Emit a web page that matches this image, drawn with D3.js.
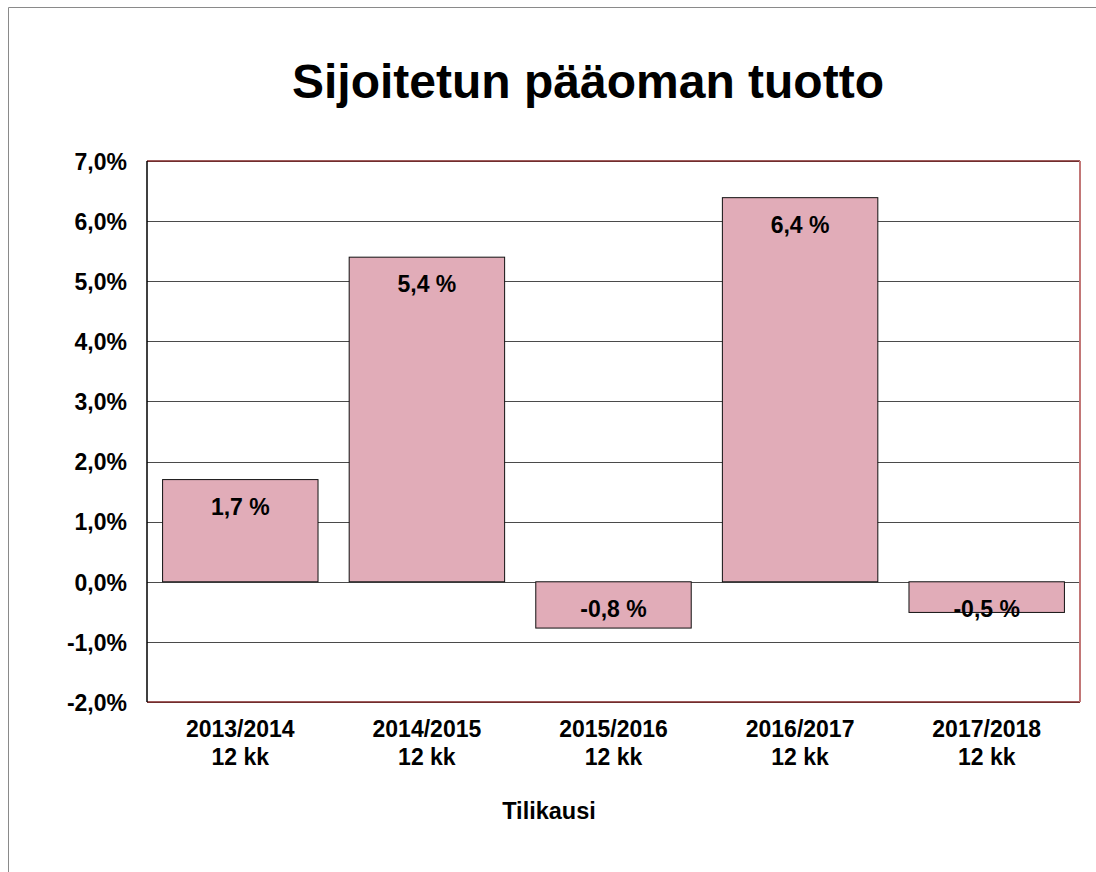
<!DOCTYPE html>
<html>
<head>
<meta charset="utf-8">
<script src="https://cdn.jsdelivr.net/npm/d3@7"></script>
<style>
  html, body { margin: 0; padding: 0; background: #fff; overflow: hidden; }
  svg { display: block; overflow: hidden; font-family: "Liberation Sans", Arial, sans-serif; font-weight: bold; }
</style>
</head>
<body>
<div id="chart"></div>
<script>
const WIDTH = 1096;
const HEIGHT = 872;

// data
const periods = ["2013/2014", "2014/2015", "2015/2016", "2016/2017", "2017/2018"];
const periodLengths = ["12 kk", "12 kk", "12 kk", "12 kk", "12 kk"];
const returns = [1.7, 5.4, -0.77, 6.39, -0.51];
const returnLabels = ["1,7 %", "5,4 %", "-0,8 %", "6,4 %", "-0,5 %"];
const yTicks = [-2, -1, 0, 1, 2, 3, 4, 5, 6, 7];

const plot = { left: 147, right: 1080, top: 161, bottom: 702 };

const fi = d3.formatLocale({ decimal: ",", thousands: " ", grouping: [3], currency: ["", " €"], minus: "-" });
const pct = fi.format(".1f");

const svg = d3.select("#chart").append("svg")
  .attr("width", WIDTH)
  .attr("height", HEIGHT);

// outer chart frame (only top and left edges fall inside the picture)
svg.append("path")
  .attr("d", `M8.5,${HEIGHT} V7.5 H${WIDTH}`)
  .attr("fill", "none")
  .attr("stroke", "#8a8a8a")
  .attr("stroke-width", 1);

const x = d3.scaleBand()
  .domain(periods)
  .range([plot.left, plot.right])
  .paddingInner(0.167)
  .paddingOuter(0.0835);

const y = d3.scaleLinear()
  .domain([-2, 7])
  .range([plot.bottom, plot.top]);

// title
svg.append("text")
  .attr("x", 588)
  .attr("y", 98)
  .attr("text-anchor", "middle")
  .style("font-size", "48px")
  .text("Sijoitetun pääoman tuotto");

// gridlines
svg.append("g")
  .attr("class", "grid")
  .attr("transform", `translate(${plot.left},0)`)
  .call(d3.axisLeft(y).tickValues(yTicks).tickSize(-(plot.right - plot.left)).tickFormat(""))
  .call((g) => g.select(".domain").remove())
  .call((g) => g.selectAll("line").attr("stroke", "#4a4a4a").attr("shape-rendering", "crispEdges"));

// y axis labels
svg.append("g")
  .attr("transform", `translate(${plot.left},0)`)
  .call(d3.axisLeft(y).tickValues(yTicks).tickSize(0).tickPadding(20).tickFormat((d) => `${pct(d)}%`))
  .call((g) => g.select(".domain").remove())
  .call((g) => g.selectAll("text")
    .attr("fill", "#000")
    .attr("dy", "0.36em")
    .style("font-size", "23px")
    .style("font-family", "'Liberation Sans', Arial, sans-serif")
    .style("font-weight", "bold"));

// bars
svg.append("g")
  .selectAll("rect")
  .data(returns)
  .join("rect")
  .attr("x", (d, i) => x(periods[i]))
  .attr("y", (d) => y(Math.max(0, d)))
  .attr("width", x.bandwidth())
  .attr("height", (d) => Math.abs(y(d) - y(0)))
  .attr("fill", "#e1acb8")
  .attr("stroke", "#111")
  .attr("stroke-width", 1);

// bar value labels
svg.append("g")
  .selectAll("text")
  .data(returns)
  .join("text")
  .attr("x", (d, i) => x(periods[i]) + x.bandwidth() / 2)
  .attr("y", (d) => y(Math.max(0, d)) + 35)
  .attr("text-anchor", "middle")
  .style("font-size", "23px")
  .text((d, i) => returnLabels[i]);

// plot frame
const frame = svg.append("g").attr("fill", "none");
frame.append("line")
  .attr("x1", plot.left).attr("x2", plot.right)
  .attr("y1", plot.top).attr("y2", plot.top)
  .attr("stroke", "#7e2424").attr("stroke-width", 1.5);
frame.append("line")
  .attr("x1", plot.left).attr("x2", plot.right)
  .attr("y1", plot.bottom).attr("y2", plot.bottom)
  .attr("stroke", "#7e2424").attr("stroke-width", 1.5);
frame.append("line")
  .attr("x1", plot.right).attr("x2", plot.right)
  .attr("y1", plot.top).attr("y2", plot.bottom)
  .attr("stroke", "#c27676").attr("stroke-width", 2);
frame.append("line")
  .attr("x1", plot.left).attr("x2", plot.left)
  .attr("y1", plot.top).attr("y2", plot.bottom)
  .attr("stroke", "#000").attr("stroke-width", 1.5);

// category labels
const cats = svg.append("g")
  .selectAll("text")
  .data(periods)
  .join("text")
  .attr("x", (d) => x(d) + x.bandwidth() / 2)
  .attr("y", 737)
  .attr("text-anchor", "middle")
  .style("font-size", "23px");
cats.append("tspan").text((d) => d);
cats.append("tspan")
  .attr("x", (d) => x(d) + x.bandwidth() / 2)
  .attr("dy", 28)
  .text((d, i) => periodLengths[i]);

// x axis title
svg.append("text")
  .attr("x", 549)
  .attr("y", 819)
  .attr("text-anchor", "middle")
  .style("font-size", "23.5px")
  .text("Tilikausi");
</script>
</body>
</html>
